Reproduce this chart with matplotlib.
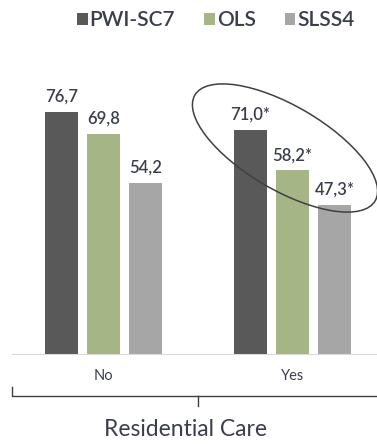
import matplotlib.pyplot as plt
import numpy as np
from matplotlib.patches import Ellipse
from matplotlib.lines import Line2D
from matplotlib.transforms import IdentityTransform

categories = ["No", "Yes"]
series = ["PWI-SC7", "OLS", "SLSS4"]
values = {
    "PWI-SC7": [76.7, 71.0],
    "OLS": [69.8, 58.2],
    "SLSS4": [54.2, 47.3],
}
labels = {
    "PWI-SC7": ["76,7", "71,0*"],
    "OLS": ["69,8", "58,2*"],
    "SLSS4": ["54,2", "47,3*"],
}
colors = {"PWI-SC7": "#595959", "OLS": "#a5b586", "SLSS4": "#a6a6a6"}
txt = "#3b3f4c"

plt.rcParams['font.family'] = ['Lato', 'DejaVu Sans']

W, H = 377, 445
fig = plt.figure(figsize=(W / 100, H / 100), dpi=100)
ax = fig.add_axes([12 / W, (H - 354) / H, 365 / W, 315.5 / H])

x = np.arange(len(categories))
width = 0.175
offset = 0.222
for i, s in enumerate(series):
    pos = x + (i - 1) * offset
    bars = ax.bar(pos, values[s], width, color=colors[s], label=s)
    for b, lab in zip(bars, labels[s]):
        ax.text(b.get_x() + b.get_width() / 2, b.get_height() + 3.2, lab,
                ha='center', va='baseline', fontsize=12, color=txt,
                fontweight='semibold')

ax.set_xlim(-0.484, 1.447)
ax.set_ylim(0, 100)
ax.set_yticks([])
ax.set_xticks(x)
ax.set_xticklabels(categories, fontsize=10.5, color=txt)
ax.tick_params(axis='x', length=0, pad=11)
for sp in ['top', 'right', 'left']:
    ax.spines[sp].set_visible(False)
ax.spines['bottom'].set_color('#d9d9d9')

fig.legend(loc='center', bbox_to_anchor=(216 / W, 1 - 20 / H), ncol=3,
           frameon=False, handlelength=0.5, handleheight=0.5,
           handletextpad=0.1, columnspacing=1.4,
           prop={'size': 15, 'weight': 'semibold'}, labelcolor=txt)

# highlight ellipse around "Yes" group (pixel coordinates)
tr = IdentityTransform()
ell = Ellipse((285, H - 148), 209, 84, angle=-30.4, fill=False,
              edgecolor='#404040', lw=1.1, transform=tr)
fig.patches.append(ell)

# bracket below category labels
bc = '#404040'
fig.lines.append(Line2D([12, 12, 377], [H - 387, H - 396, H - 396],
                        color=bc, lw=1, transform=tr))
fig.lines.append(Line2D([198, 198], [H - 396, H - 406], color=bc, lw=1,
                        transform=tr))
fig.text(186 / W, 1 - 429 / H, "Residential Care", ha='center', va='center',
         fontsize=16.5, color=txt)

fig.savefig("out.png", dpi=100)
